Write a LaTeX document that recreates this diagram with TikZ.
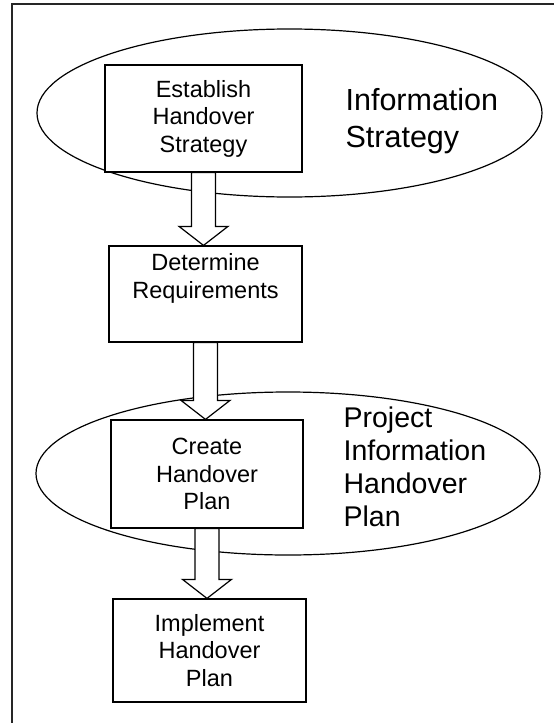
\documentclass[tikz,border=0pt]{standalone}
\usepackage{fontspec}
\setmainfont{Liberation Sans}
\usepackage{tikz}
\usetikzlibrary{shapes.geometric}
\usetikzlibrary{calc}
\usetikzlibrary{positioning}
\newcommand{\handover}[2]{%
  \path[block arrow] let \p1=(#1.south), \p2=(#2.north) in
    (\x1-12pt,\y1) -- (\x1-12pt,\y2+19pt) -- (\x1-24.5pt,\y2+19pt) -- (\x1,\y2)
    -- (\x1+24.5pt,\y2+19pt) -- (\x1+12pt,\y2+19pt) -- (\x1+12pt,\y1) -- cycle;}

\begin{document}
\begin{tikzpicture}[x=1pt,y=-1pt,line width=1.2pt,
    box node/.style={rectangle,draw,fill=white,inner sep=0pt,align=center,font=\fontsize{23.5}{27.5}\selectfont},
    group node/.style={ellipse,draw,inner sep=0pt},
    label node/.style={inner sep=0pt,anchor=north west,align=left},
    block arrow/.style={draw,fill=white,line width=1.2pt,line join=miter}]
  \useasboundingbox (0,0) rectangle (554,723);
  \begin{scope}
    % frame, cut off at right and bottom
    \draw[line width=1.5pt,black!85] (554,4) -- (12,4) -- (12,723);

    \node[group node,minimum width=505,minimum height=168] (strategy) at (289.5,113) {};
    \node[group node,minimum width=504,minimum height=163] (plan) at (288,473.5) {};

    \node[box node,minimum width=197,minimum height=107] (establish) at (203.5,118.5) {Establish\\Handover\\Strategy};
    \node[box node,minimum width=193,minimum height=96] (determine) at (205.5,294) {Determine\\Requirements\\\strut};
    \node[box node,minimum width=192,minimum height=108] (create) at (207,474) {Create\\Handover\\Plan};
    \node[box node,minimum width=193,minimum height=103] (implement) at (209.5,650.5) {Implement\\Handover\\Plan};

    \handover{establish}{determine}
    \handover{determine}{create}
    \handover{create}{implement}

    \node[label node,font=\fontsize{30.5}{37}\selectfont] (strategylabel) at (345,88) {Information\\Strategy};
    \node[label node,font=\fontsize{28.5}{33}\selectfont] (planlabel) at (343,406) {Project\\Information\\Handover\\Plan};
  \end{scope}
\end{tikzpicture}
\end{document}
